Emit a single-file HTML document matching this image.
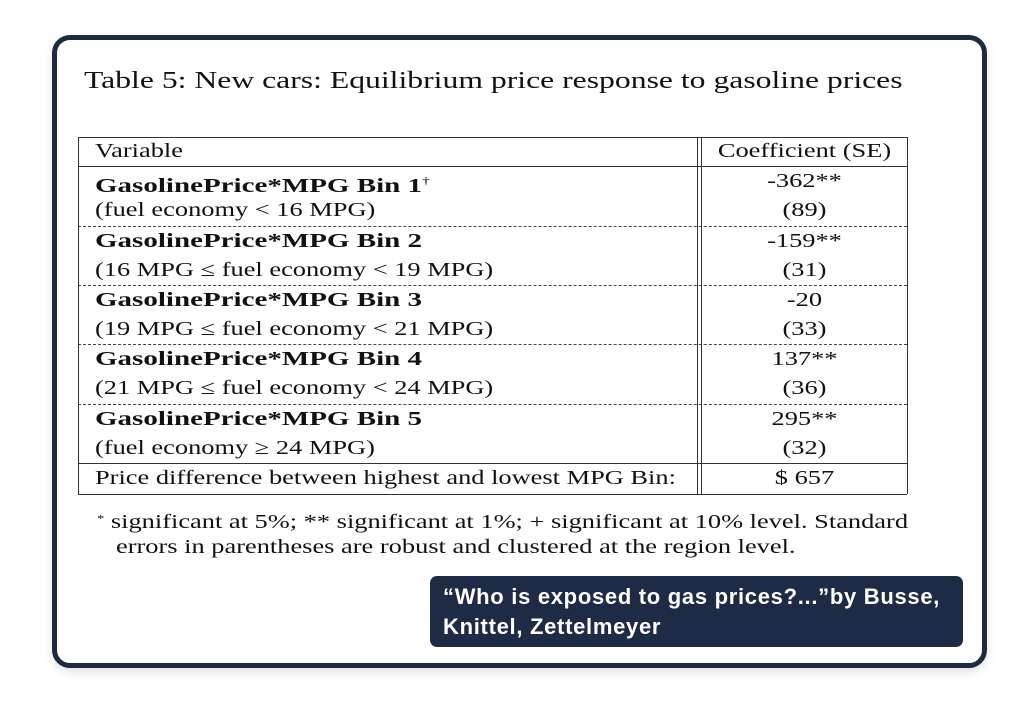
<!DOCTYPE html>
<html><head><style>
body{margin:0;width:1025px;height:710px;background:#fff;position:relative;overflow:hidden;font-family:"Liberation Serif",serif;color:#111}
.frame{position:absolute;left:52px;top:35px;width:925px;height:623px;border:5px solid #1e2a40;border-radius:18px;box-shadow:0 4px 10px rgba(0,0,0,.12)}
.t{position:absolute;white-space:nowrap;font-size:20px;line-height:22px;transform:scaleX(1.32);transform-origin:0 0}
.b{font-weight:bold;transform:scaleX(1.45)}
.c{text-align:center;width:205px;left:702px;transform-origin:50% 0}
.h{position:absolute;height:0;left:78px;width:829px}
.s{border-top:1px solid #333}
.d{border-top:1px dashed #444}
.v{position:absolute;width:0;border-left:1px solid #333}
.cap{position:absolute;left:430px;top:576px;width:533px;height:71px;background:#1f2b44;border-radius:7px;color:#fff;font-family:"Liberation Sans",sans-serif;font-weight:bold;font-size:22px;line-height:30px;letter-spacing:0.7px;padding:6px 13px;box-sizing:border-box;white-space:nowrap}
</style></head><body>
<div class="frame"></div>
<div class="t" style="left:84px;top:67px;font-size:24px;line-height:28px">Table 5: New cars: Equilibrium price response to gasoline prices</div>

<div class="h s" style="top:137px"></div>
<div class="h s" style="top:166px"></div>
<div class="h d" style="top:226px"></div>
<div class="h d" style="top:285px"></div>
<div class="h d" style="top:344px"></div>
<div class="h d" style="top:404px"></div>
<div class="h s" style="top:463px"></div>
<div class="h s" style="top:494px"></div>
<div class="v" style="left:78px;top:137px;height:357px"></div>
<div class="v" style="left:697px;top:137px;height:357px"></div>
<div class="v" style="left:701px;top:137px;height:357px"></div>
<div class="v" style="left:907px;top:137px;height:357px"></div>

<div class="t" style="left:95px;top:140px">Variable</div>
<div class="t c" style="top:140px">Coefficient (SE)</div>

<div class="t b" style="left:95px;top:170px">GasolinePrice*MPG Bin 1<sup style="font-weight:normal;font-size:11px;vertical-align:8px">†</sup></div>
<div class="t" style="left:95px;top:199px">(fuel economy &lt; 16 MPG)</div>
<div class="t c" style="top:170px">-362**</div>
<div class="t c" style="top:199px">(89)</div>

<div class="t b" style="left:95px;top:230px">GasolinePrice*MPG Bin 2</div>
<div class="t" style="left:95px;top:259px">(16 MPG ≤ fuel economy &lt; 19 MPG)</div>
<div class="t c" style="top:230px">-159**</div>
<div class="t c" style="top:259px">(31)</div>

<div class="t b" style="left:95px;top:289px">GasolinePrice*MPG Bin 3</div>
<div class="t" style="left:95px;top:318px">(19 MPG ≤ fuel economy &lt; 21 MPG)</div>
<div class="t c" style="top:289px">-20</div>
<div class="t c" style="top:318px">(33)</div>

<div class="t b" style="left:95px;top:348px">GasolinePrice*MPG Bin 4</div>
<div class="t" style="left:95px;top:377px">(21 MPG ≤ fuel economy &lt; 24 MPG)</div>
<div class="t c" style="top:348px">137**</div>
<div class="t c" style="top:377px">(36)</div>

<div class="t b" style="left:95px;top:408px">GasolinePrice*MPG Bin 5</div>
<div class="t" style="left:95px;top:437px">(fuel economy ≥ 24 MPG)</div>
<div class="t c" style="top:408px">295**</div>
<div class="t c" style="top:437px">(32)</div>

<div class="t" style="left:95px;top:467px">Price difference between highest and lowest MPG Bin:</div>
<div class="t c" style="top:467px">$ 657</div>

<div class="t" style="left:97px;top:508px"><sup style="font-size:11px;vertical-align:6px">*</sup> significant at 5%; ** significant at 1%; + significant at 10% level. Standard</div>
<div class="t" style="left:116px;top:536px">errors in parentheses are robust and clustered at the region level.</div>

<div class="cap">“Who is exposed to gas prices?...”by Busse,<br>Knittel, Zettelmeyer</div>
</body></html>
